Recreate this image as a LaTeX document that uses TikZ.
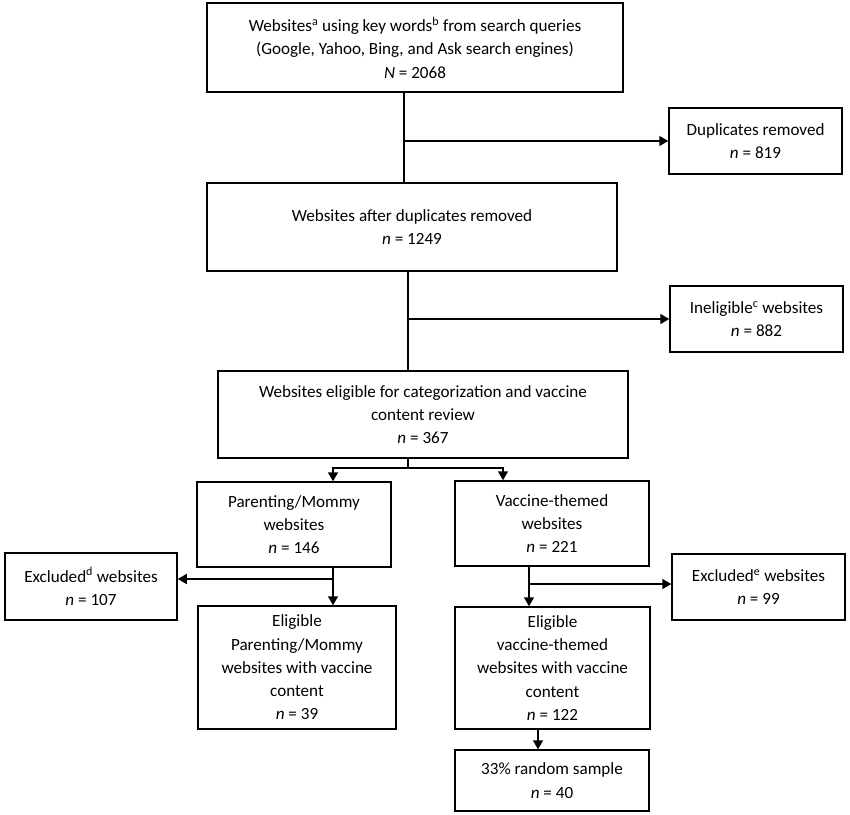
\documentclass[tikz,border=0pt]{standalone}
\usepackage{fontspec}
\setmainfont{Carlito}
\usetikzlibrary{arrows.meta}
\begin{document}
\begin{tikzpicture}[x=1pt,y=-1pt,
  box/.style={draw=black,line width=1.5pt,inner sep=0pt,align=center,rectangle,
    font=\fontsize{17.1}{23.3}\selectfont},
  conn/.style={line width=1.5pt},
  arr/.style={line width=1.5pt,-{Triangle[length=9pt,width=10pt]}}]
\useasboundingbox (0,0) rectangle (850,814);
\fill[white] (0,0) rectangle (850,814);
% boxes
\node[box,minimum width=416pt,minimum height=89pt] (top) at (415,47.5)
  {Websites\textsuperscript{a} using key words\textsuperscript{b} from search queries\\
   (Google, Yahoo, Bing, and Ask search engines)\\ \textit{N} = 2068};
\node[box,minimum width=410pt,minimum height=88pt] (dedup) at (412,227)
  {Websites after duplicates removed\\ \textit{n} = 1249};
\node[box,minimum width=410pt,minimum height=87pt] (elig) at (423,414.5)
  {Websites eligible for categorization and vaccine\\ content review\\ \textit{n} = 367};
\node[box,minimum width=173pt,minimum height=66pt] (dup) at (755.5,141)
  {Duplicates removed\\ \textit{n} = 819};
\node[box,minimum width=173pt,minimum height=66pt] (inel) at (756.5,319)
  {Ineligible\textsuperscript{c} websites\\ \textit{n} = 882};
\node[box,minimum width=194pt,minimum height=85pt] (par) at (294,524.5)
  {Parenting/Mommy\\ websites\\ \textit{n} = 146};
\node[box,minimum width=194pt,minimum height=85pt] (vac) at (552,523.5)
  {Vaccine-themed\\ websites\\ \textit{n} = 221};
\node[box,minimum width=172pt,minimum height=67pt] (exd) at (91,586.5)
  {Excluded\textsuperscript{d} websites\\ \textit{n} = 107};
\node[box,minimum width=173pt,minimum height=66pt] (exe) at (758.5,587)
  {Excluded\textsuperscript{e} websites\\ \textit{n} = 99};
\node[box,minimum width=198pt,minimum height=123pt] (epar) at (297,667.5)
  {Eligible\\ Parenting/Mommy\\ websites with vaccine\\ content\\ \textit{n} = 39};
\node[box,minimum width=195pt,minimum height=122pt] (evac) at (552.5,668)
  {Eligible\\ vaccine-themed\\ websites with vaccine\\ content\\ \textit{n} = 122};
\node[box,minimum width=194pt,minimum height=61pt] (rnd) at (552,780.5)
  {33\% random sample\\ \textit{n} = 40};
% junctions
\coordinate (j1) at (404,141);
\coordinate (j2) at (408,319);
\coordinate (s) at (408,468);
\coordinate (sl) at (333,468);
\coordinate (sr) at (503,468);
\coordinate (pj) at (333,579);
\coordinate (vj) at (529,584);
\coordinate (rj) at (538,740);
% connectors
\draw[conn] (top.south -| j1) -- (dedup.north -| j1);
\draw[arr] (j1) -- (dup.west |- j1);
\draw[conn] (dedup.south -| j2) -- (elig.north -| j2);
\draw[arr] (j2) -- (inel.west |- j2);
\draw[conn] (elig.south -| s) -- (s);
\draw[arr] (s) -| (par.north -| sl);
\draw[arr] (s) -| (vac.north -| sr);
\draw[arr] (par.south -| pj) -- (epar.north -| pj);
\draw[arr] (pj) -- (exd.east |- pj);
\draw[arr] (vac.south -| vj) -- (evac.north -| vj);
\draw[arr] (vj) -- (exe.west |- vj);
\draw[arr] (evac.south -| rj) -- (rnd.north -| rj);
\end{tikzpicture}
\end{document}
